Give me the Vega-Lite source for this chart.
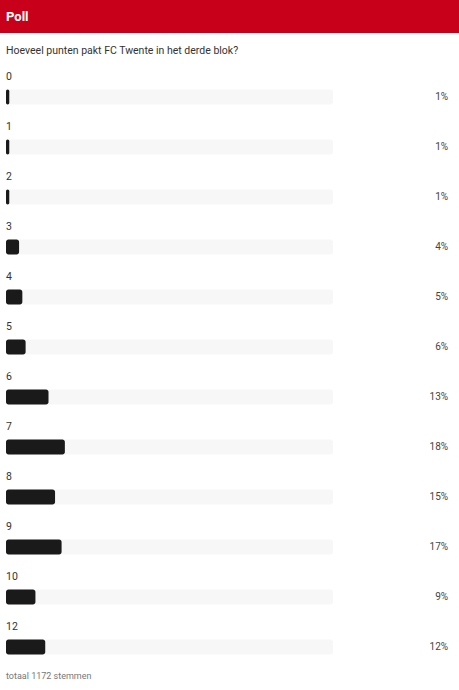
{
  "$schema": "https://vega.github.io/schema/vega-lite/v6.json",
  "description": "Poll: Hoeveel punten pakt FC Twente in het derde blok?",
  "width": 459,
  "height": 690,
  "autosize": {"type": "none"},
  "padding": 0,
  "background": "white",
  "data": {
    "values": [
      {"i": 0, "label": "0", "pct": 1, "share": "1%"},
      {"i": 1, "label": "1", "pct": 1, "share": "1%"},
      {"i": 2, "label": "2", "pct": 1, "share": "1%"},
      {"i": 3, "label": "3", "pct": 4, "share": "4%"},
      {"i": 4, "label": "4", "pct": 5, "share": "5%"},
      {"i": 5, "label": "5", "pct": 6, "share": "6%"},
      {"i": 6, "label": "6", "pct": 13, "share": "13%"},
      {"i": 7, "label": "7", "pct": 18, "share": "18%"},
      {"i": 8, "label": "8", "pct": 15, "share": "15%"},
      {"i": 9, "label": "9", "pct": 17, "share": "17%"},
      {"i": 10, "label": "10", "pct": 9, "share": "9%"},
      {"i": 11, "label": "12", "pct": 12, "share": "12%"}
    ]
  },
  "encoding": {
    "x": {"type": "quantitative", "scale": {"domain": [-1.835, 138.53], "nice": false, "zero": false, "padding": 0}, "axis": null},
    "y": {"type": "quantitative", "scale": {"domain": [-1.94, 11.86], "reverse": true, "nice": false, "zero": false, "padding": 0}, "axis": null}
  },
  "layer": [
    {
      "data": {"values": [{}]},
      "mark": {"type": "rect", "color": "#c8001a"},
      "encoding": {
        "x": {"datum": -1.835, "type": "quantitative"},
        "x2": {"datum": 138.53},
        "y": {"datum": -1.94, "type": "quantitative"},
        "y2": {"datum": -1.28}
      }
    },
    {
      "data": {"values": [{"text": "Poll"}]},
      "mark": {"type": "text", "align": "left", "baseline": "middle", "font": "Roboto", "fontWeight": "bold", "fontSize": 13, "color": "white"},
      "encoding": {
        "x": {"datum": 0, "type": "quantitative"},
        "y": {"datum": -1.61, "type": "quantitative"},
        "text": {"field": "text"}
      }
    },
    {
      "data": {"values": [{"text": "Hoeveel punten pakt FC Twente in het derde blok?"}]},
      "mark": {"type": "text", "align": "left", "baseline": "middle", "font": "Roboto", "fontSize": 10.5, "color": "#333333"},
      "encoding": {
        "x": {"datum": 0, "type": "quantitative"},
        "y": {"datum": -0.92, "type": "quantitative"},
        "text": {"field": "text"}
      }
    },
    {
      "mark": {"type": "bar", "orient": "horizontal", "height": 15, "cornerRadius": 2.5, "color": "#f7f7f7"},
      "encoding": {
        "x": {"datum": 0, "type": "quantitative"},
        "x2": {"datum": 100},
        "y": {"field": "i", "type": "quantitative"}
      }
    },
    {
      "mark": {"type": "bar", "orient": "horizontal", "height": 15, "cornerRadius": 2.5, "color": "#1a1a1a"},
      "encoding": {
        "x": {"field": "pct", "type": "quantitative"},
        "x2": {"datum": 0},
        "y": {"field": "i", "type": "quantitative"}
      }
    },
    {
      "mark": {"type": "text", "align": "left", "baseline": "middle", "dy": -20, "font": "Roboto", "fontSize": 10.5, "color": "#333333"},
      "encoding": {
        "x": {"datum": 0, "type": "quantitative"},
        "y": {"field": "i", "type": "quantitative"},
        "text": {"field": "label"}
      }
    },
    {
      "mark": {"type": "text", "align": "right", "baseline": "middle", "font": "Roboto", "fontSize": 10, "color": "#444444"},
      "encoding": {
        "x": {"datum": 135.2, "type": "quantitative"},
        "y": {"field": "i", "type": "quantitative"},
        "text": {"field": "share"}
      }
    },
    {
      "data": {"values": [{"text": "totaal 1172 stemmen"}]},
      "mark": {"type": "text", "align": "left", "baseline": "middle", "font": "Roboto", "fontSize": 9, "color": "#777777"},
      "encoding": {
        "x": {"datum": 0, "type": "quantitative"},
        "y": {"datum": 11.58, "type": "quantitative"},
        "text": {"field": "text"}
      }
    }
  ],
  "config": {"view": {"stroke": null}}
}
